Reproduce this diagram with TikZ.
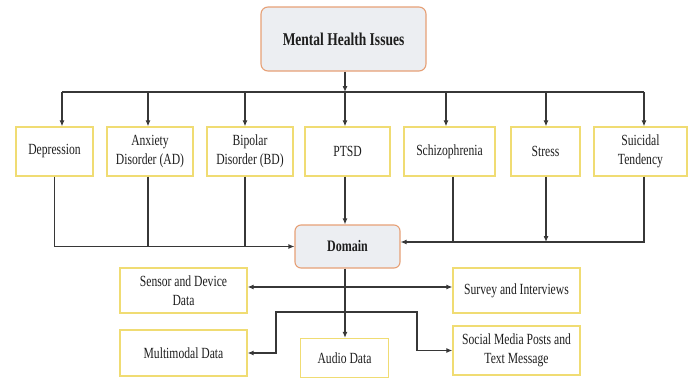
\documentclass[tikz,border=0pt]{standalone}
\usepackage{fontspec}
\setmainfont{Liberation Serif}[FakeStretch=0.75]
\usetikzlibrary{arrows.meta,positioning,calc}
\definecolor{boxyellow}{RGB}{240,220,115}
\definecolor{boxorange}{RGB}{230,160,118}
\definecolor{boxgray}{RGB}{236,238,242}
\definecolor{linegray}{RGB}{55,55,55}
\definecolor{txt}{RGB}{30,30,30}
\tikzset{
  ybox/.style={draw=boxyellow, line width=1.3pt, fill=white, align=center, inner sep=1pt,
    text=txt, font=\fontsize{15.5}{18.5}\selectfont},
  obox/.style={draw=boxorange, line width=1.1pt, fill=boxgray, rounded corners=7pt,
    align=center, text=txt},
  conn/.style={draw=linegray, line width=1.1pt},
  arr/.style={conn, -{Latex[length=6pt,width=5pt]}}
}
\begin{document}
\begin{tikzpicture}[x=1pt,y=-1pt]
\useasboundingbox (0,0) rectangle (696,380);
% top
\node[obox, minimum width=165pt, minimum height=64pt, font=\bfseries\fontsize{18}{20}\selectfont] (top) at (343.5,39) {Mental Health Issues};
% disorders
\node[ybox, minimum width=77pt, minimum height=49pt] (dep) at (54.5,151.5) {Depression};
\node[ybox, minimum width=86pt, minimum height=49pt] (anx) at (150,151.5) {Anxiety\\Disorder (AD)};
\node[ybox, minimum width=86pt, minimum height=49pt] (bip) at (250,151.5) {Bipolar\\Disorder (BD)};
\node[ybox, minimum width=85pt, minimum height=49pt] (pts) at (347.5,151.5) {PTSD};
\node[ybox, minimum width=91pt, minimum height=49pt] (sch) at (449.5,151.5) {Schizophrenia};
\node[ybox, minimum width=69pt, minimum height=49pt] (str) at (545.5,151.5) {Stress};
\node[ybox, minimum width=93pt, minimum height=49pt] (sui) at (640.5,151.5) {Suicidal\\Tendency};
% domain
\node[obox, rounded corners=6pt, minimum width=105pt, minimum height=43pt, font=\bfseries\fontsize{16}{18}\selectfont] (dom) at (347.5,246.5) {Domain};
% data
\node[ybox, minimum width=127pt, minimum height=45pt] (sen) at (183.5,290.5) {Sensor and Device\\Data};
\node[ybox, minimum width=127pt, minimum height=46pt] (mul) at (183.5,353) {Multimodal Data};
\node[ybox, minimum width=88pt, minimum height=39pt] (aud) at (344.5,358) {Audio Data};
\node[ybox, minimum width=127pt, minimum height=45pt] (sur) at (516.5,290.5) {Survey and Interviews};
\node[ybox, minimum width=127pt, minimum height=49pt] (soc) at (516.5,350.5) {Social Media Posts and\\Text Message};
% top bus
\coordinate (bL) at (62,92);
\coordinate (bR) at (644,92);
\coordinate (b1) at (62,92);
\coordinate (b2) at (148,92);
\coordinate (b3) at (245,92);
\coordinate (b4) at (345,92);
\coordinate (b5) at (446,92);
\coordinate (b6) at (546,92);
\coordinate (b7) at (644,92);
\draw[conn] (bL) -- (bR);
\draw[arr] (top.south -| b4) -- (b4);
\draw[arr] (b1) -- (b1 |- dep.north);
\draw[arr] (b2) -- (b2 |- anx.north);
\draw[arr] (b3) -- (b3 |- bip.north);
\draw[arr] (b4) -- (b4 |- pts.north);
\draw[arr] (b5) -- (b5 |- sch.north);
\draw[arr] (b6) -- (b6 |- str.north);
\draw[arr] (b7) -- (b7 |- sui.north);
% to domain
\coordinate (dL) at (dom.west);
\coordinate (dR) at ([yshift=4.5pt]dom.east);
\draw[arr] (dep.south) |- (dL);
\draw[conn] ([xshift=-2pt]anx.south) -- ([xshift=-2pt]anx.south |- dL);
\draw[conn] ([xshift=-5pt]bip.south) -- ([xshift=-5pt]bip.south |- dL);
\draw[arr] ([xshift=-2.5pt]pts.south) -- ([xshift=-2.5pt]pts.south |- dom.north);
\draw[arr] ([xshift=3.5pt]sui.south) |- (dR);
\draw[conn] ([xshift=3.5pt]sch.south) -- ([xshift=3.5pt]sch.south |- dR);
\draw[arr] ([xshift=0.5pt]str.south) -- ([xshift=0.5pt]str.south |- dR);
% from domain
\coordinate (v) at ([xshift=-2.5pt]dom.south);
\draw[arr] (v) -- (v |- aud.north);
\coordinate (h1) at (345,287);
\draw[arr] (h1) -- (h1 -| sen.east);
\draw[arr] (h1) -- (h1 -| sur.west);
\coordinate (h2) at (345,312);
\coordinate (k1) at (276,312);
\coordinate (k2) at (417,312);
\draw[arr] (h2) -- (k1) |- (mul.east);
\draw[arr] (h2) -- (k2) |- (soc.west);
\end{tikzpicture}
\end{document}
